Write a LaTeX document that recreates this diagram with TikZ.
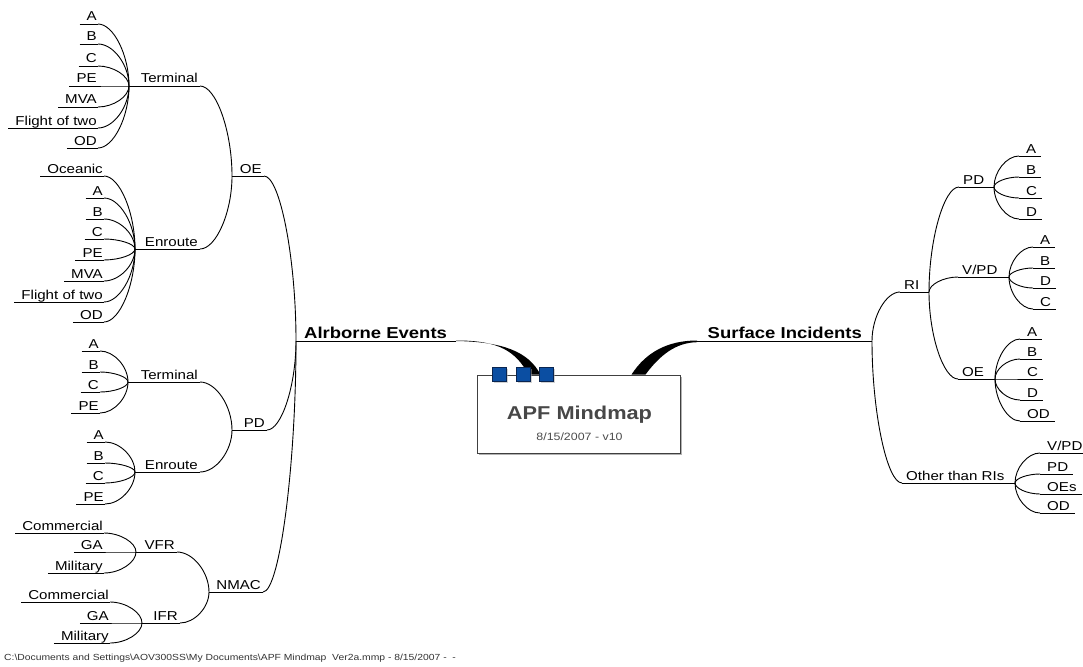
\documentclass[tikz,border=0pt]{standalone}
\usepackage{fontspec}
\setmainfont{Liberation Sans}[FakeStretch=1.17]
\usetikzlibrary{calc,shadows}
\definecolor{sqblue}{HTML}{0B4EA2}
\definecolor{sqdark}{HTML}{0A2550}
\newcommand\fLeaf{\fontsize{12.9}{14}\selectfont}
\newcommand\fMain{\fontsize{15.8}{18}\selectfont\bfseries}
\newcommand\fTitle{\fontsize{18.6}{21}\selectfont\bfseries}
\newcommand\fSub{\fontsize{10.6}{12}\selectfont}
\newcommand\fFoot{\fontsize{8.85}{10}\selectfont}
\tikzset{
  ln/.style={line width=0.9pt, black},
  lt/.style={anchor=base east, inner sep=0pt, yshift=3pt, font=\fLeaf},
  rt/.style={anchor=base west, inner sep=0pt, yshift=3pt, font=\fLeaf},
  sq/.style={minimum size=14pt, inner sep=0pt, fill=sqblue, draw=sqdark, line width=0.8pt,
    drop shadow={shadow xshift=1.6pt, shadow yshift=-1.6pt, fill=black!35}},
}
% connector: horizontal at child end, vertical at hub
\newcommand\myconn[2]{\draw[ln] (#1) .. controls ($(#1)!0.5!(#2 |- #1)$) and ($(#2)!0.5!(#2 |- #1)$) .. (#2);}
% left mid topic: name,text,hubx,endx,y,parenthub
\newcommand\midL[6]{%
  \coordinate (#1h) at (#3,#5); \coordinate (#1e) at (#4,#5);
  \node[lt, xshift=-2pt] (#1) at (#1e) {#2};
  \draw[ln] (#1h) -- (#1e);
  \myconn{#1e}{#6}}
% right mid topic: name,text,startx,hubx,y,parenthub
\newcommand\midR[6]{%
  \coordinate (#1s) at (#3,#5); \coordinate (#1h) at (#4,#5);
  \node[rt, xshift=4pt] (#1) at (#1s) {#2};
  \draw[ln] (#1s) -- (#1h);
  \myconn{#1s}{#6}}
% left leaf: name,text,endx,y,hub
\newcommand\leafL[5]{%
  \coordinate (#1e) at (#3,#4);
  \node[lt, xshift=-1pt] (#1) at (#1e) {#2};
  \draw[ln] ([xshift=-7pt,yshift=-3pt]#1.base west) -- (#1e);
  \myconn{#1e}{#5}}
% right leaf: name,text,startx,y,hub
\newcommand\leafR[5]{%
  \coordinate (#1s) at (#3,#4);
  \node[rt, xshift=7pt] (#1) at (#1s) {#2};
  \draw[ln] (#1s) -- ([xshift=5pt,yshift=-3pt]#1.base east);
  \myconn{#1s}{#5}}
\begin{document}
\begin{tikzpicture}[x=1pt,y=-1pt]
\useasboundingbox (0,0) rectangle (1083,666);
% central box
\fill[black!30] (479,377) rectangle (682,455);
\node[draw=black!75, line width=0.9pt, fill=white, minimum width=203pt, minimum height=78pt, inner sep=0pt] (root) at (578.5,414) {};
\node[anchor=base, font=\fTitle, text=black!72, inner sep=0pt] (title) at (579.5,419.3) {APF Mindmap};
\node[anchor=base, font=\fSub, text=black!70, inner sep=0pt] (sub) at (579.5,440.7) {8/15/2007 - v10};
% main topics
\coordinate (airh) at (296,341); \coordinate (aire) at (456,341);
\node[anchor=base west, font=\fMain, inner sep=0pt, yshift=3pt] (air) at (304,341) {Alrborne Events};
\draw[ln] (airh) -- (aire);
\fill (aire) ++(0,-0.5) .. controls (500,340.3) and (516,352) .. ($(root.north)+(-50,0)$)
   -- ($(root.north)+(-38,0)$) .. controls (528,351) and (502,341.8) .. (aire) -- cycle;
\coordinate (sure) at (697,341); \coordinate (surh) at (872,341);
\node[anchor=base east, font=\fMain, inner sep=0pt, yshift=3pt] (sur) at (862,341) {Surface Incidents};
\draw[ln] (sure) -- (surh);
\fill (sure) ++(0,-0.5) .. controls (668,340.5) and (646,352) .. ($(root.north)+(53,0)$)
   -- ($(root.north)+(67,0)$) .. controls (660,355) and (676,342.5) .. ($(sure)+(0,1.2)$) -- cycle;
% squares
\node[sq] (s1) at (499.5,374.5) {};
\node[sq] (s2) at (523,374.5) {};
\node[sq] (s3) at (546.5,374.5) {};
% ---------- left side ----------
\midL{oe}{OE}{232}{264}{176}{airh}
\midL{pd}{PD}{232}{267}{430}{airh}
\midL{nm}{NMAC}{209}{263}{592}{airh}
\midL{ot}{Terminal}{129}{200}{86}{oeh}
\midL{on}{Enroute}{135}{200}{249}{oeh}
\midL{pt}{Terminal}{128}{200}{382}{pdh}
\midL{pn}{Enroute}{135}{200}{472}{pdh}
\midL{vf}{VFR}{136}{177}{552}{nmh}
\midL{if}{IFR}{142}{180}{623}{nmh}
% OE terminal leaves
\leafL{la1}{A}{98}{24}{oth}
\leafL{la2}{B}{98}{44}{oth}
\leafL{la3}{C}{98}{66}{oth}
\leafL{la4}{PE}{98}{86}{oth}
\leafL{la5}{MVA}{98}{107}{oth}
\leafL{la6}{Flight of two}{98}{128}{oth}
\leafL{la7}{OD}{98}{148}{oth}
% OE enroute leaves
\leafL{lb1}{Oceanic}{104}{176}{onh}
\leafL{lb2}{A}{104}{198}{onh}
\leafL{lb3}{B}{104}{219}{onh}
\leafL{lb4}{C}{104}{239}{onh}
\leafL{lb5}{PE}{104}{260}{onh}
\leafL{lb6}{MVA}{104}{281}{onh}
\leafL{lb7}{Flight of two}{104}{302}{onh}
\leafL{lb8}{OD}{104}{322}{onh}
% PD terminal leaves
\leafL{lc1}{A}{100}{351}{pth}
\leafL{lc2}{B}{100}{372}{pth}
\leafL{lc3}{C}{100}{392}{pth}
\leafL{lc4}{PE}{100}{413}{pth}
% PD enroute leaves
\leafL{ld1}{A}{105}{442}{pnh}
\leafL{ld2}{B}{105}{463}{pnh}
\leafL{ld3}{C}{105}{483}{pnh}
\leafL{ld4}{PE}{105}{504}{pnh}
% VFR / IFR leaves
\leafL{le1}{Commercial}{104}{533}{vfh}
\leafL{le2}{GA}{104}{552}{vfh}
\leafL{le3}{Military}{104}{573}{vfh}
\leafL{lf1}{Commercial}{110}{602}{ifh}
\leafL{lf2}{GA}{110}{623}{ifh}
\leafL{lf3}{Military}{110}{643}{ifh}
% ---------- right side ----------
\midR{ri}{RI}{900}{929}{292}{surh}
\midR{ox}{Other than RIs}{902}{1015}{483}{surh}
\midR{rp}{PD}{959}{994}{187}{rih}
\midR{rv}{V/PD}{958}{1009}{277}{rih}
\midR{ro}{OE}{958}{995}{379}{rih}
\leafR{ra1}{A}{1019}{156}{rph}
\leafR{ra2}{B}{1019}{177}{rph}
\leafR{ra3}{C}{1019}{198}{rph}
\leafR{ra4}{D}{1019}{219}{rph}
\leafR{rb1}{A}{1033}{247}{rvh}
\leafR{rb2}{B}{1033}{268}{rvh}
\leafR{rb3}{D}{1033}{288}{rvh}
\leafR{rb4}{C}{1033}{309}{rvh}
\leafR{rc1}{A}{1020}{339}{roh}
\leafR{rc2}{B}{1020}{359}{roh}
\leafR{rc3}{C}{1020}{379}{roh}
\leafR{rc4}{D}{1020}{400}{roh}
\leafR{rc5}{OD}{1020}{421}{roh}
\leafR{rd1}{V/PD}{1040}{453}{oxh}
\leafR{rd2}{PD}{1040}{474}{oxh}
\leafR{rd3}{OEs}{1040}{494}{oxh}
\leafR{rd4}{OD}{1040}{513}{oxh}
% footer
\node[anchor=base west, font=\fFoot, text=black!80, inner sep=0pt] (foot) at (4,660)
  {C:\textbackslash Documents and Settings\textbackslash AOV300SS\textbackslash My Documents\textbackslash APF Mindmap\ \ Ver2a.mmp - 8/15/2007 -\ \ -};
\end{tikzpicture}
\end{document}
